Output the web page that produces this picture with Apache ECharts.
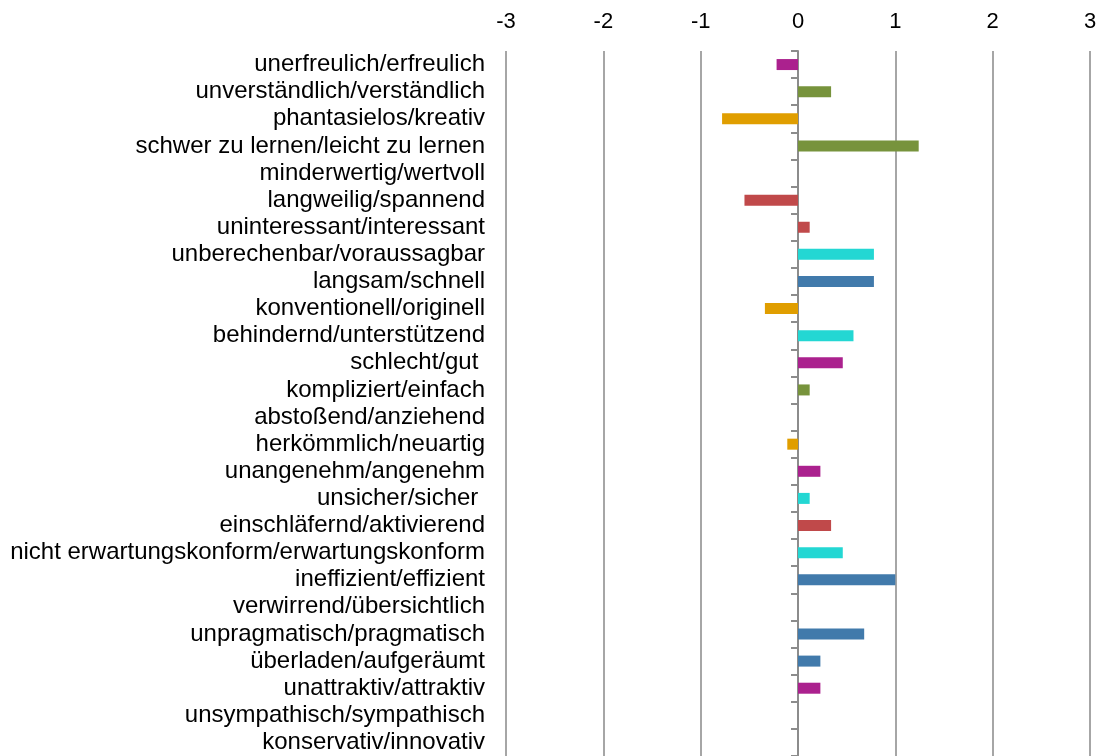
<!DOCTYPE html>
<html>
<head>
<meta charset="utf-8">
<script src="https://cdn.jsdelivr.net/npm/echarts@6/dist/echarts.min.js"></script>
<style>
  html, body { margin: 0; padding: 0; background: #fff; }
  #chart { width: 1104px; height: 756px; }
</style>
</head>
<body>
<div id="chart"></div>
<script>
// Semantic differential item pairs (negative pole / positive pole)
const categories = [
  'unerfreulich/erfreulich',
  'unverständlich/verständlich',
  'phantasielos/kreativ',
  'schwer zu lernen/leicht zu lernen',
  'minderwertig/wertvoll',
  'langweilig/spannend',
  'uninteressant/interessant',
  'unberechenbar/voraussagbar',
  'langsam/schnell',
  'konventionell/originell',
  'behindernd/unterstützend',
  'schlecht/gut ',
  'kompliziert/einfach',
  'abstoßend/anziehend',
  'herkömmlich/neuartig',
  'unangenehm/angenehm',
  'unsicher/sicher ',
  'einschläfernd/aktivierend',
  'nicht erwartungskonform/erwartungskonform',
  'ineffizient/effizient',
  'verwirrend/übersichtlich',
  'unpragmatisch/pragmatisch',
  'überladen/aufgeräumt',
  'unattraktiv/attraktiv',
  'unsympathisch/sympathisch',
  'konservativ/innovativ'
];

// Mean rating per item on the -3 .. +3 scale
const values = [
  -0.22, 0.34, -0.78, 1.24, 0, -0.55, 0.12, 0.78, 0.78, -0.34,
  0.57, 0.46, 0.12, 0, -0.11, 0.23, 0.12, 0.34, 0.46, 1.0,
  0, 0.68, 0.23, 0.23, 0, 0
];

// Scale tick labels
const scaleTicks = [-3, -2, -1, 0, 1, 2, 3];

// Scale group of each item (colour key)
const groups = [
  'attr', 'pers', 'orig', 'pers', 'attr', 'stim', 'stim', 'steu', 'eff', 'orig',
  'steu', 'attr', 'pers', 'attr', 'orig', 'attr', 'steu', 'stim', 'steu', 'eff',
  'pers', 'eff', 'eff', 'attr', 'attr', 'orig'
];

const groupColors = {
  attr: '#AB218E',
  pers: '#77933C',
  orig: '#E09E00',
  stim: '#C0494A',
  steu: '#23D7D3',
  eff:  '#417AAB'
};

const FONT = '"Liberation Sans", Arial, Helvetica, sans-serif';

const chart = echarts.init(document.getElementById('chart'), null, { renderer: 'canvas' });

chart.setOption({
  animation: false,
  backgroundColor: '#ffffff',
  grid: { left: 506, right: 14, top: 51, height: 706, containLabel: false },
  xAxis: {
    type: 'value',
    position: 'top',
    min: scaleTicks[0],
    max: scaleTicks[scaleTicks.length - 1],
    interval: 1,
    axisLine: { show: false },
    axisTick: { show: false },
    axisLabel: {
      margin: 18,
      color: '#000',
      fontFamily: FONT,
      fontSize: 22
    },
    splitLine: { show: true, lineStyle: { color: '#a6a6a6', width: 2 } }
  },
  yAxis: [
    {
      // item labels along the left edge
      type: 'category',
      data: categories,
      inverse: true,
      position: 'left',
      axisLine: { show: false, onZero: false },
      axisTick: { show: false },
      axisLabel: {
        interval: 0,
        margin: 21,
        color: '#000',
        fontFamily: FONT,
        fontSize: 24
      },
      splitLine: { show: false }
    },
    {
      // baseline at zero with boundary ticks
      type: 'category',
      data: categories,
      inverse: true,
      position: 'left',
      axisLine: { show: true, onZero: true, lineStyle: { color: '#8c8c8c', width: 2 } },
      axisTick: { show: true, interval: 0, length: 7, lineStyle: { color: '#8c8c8c', width: 2 } },
      axisLabel: { show: false },
      splitLine: { show: false }
    }
  ],
  series: [
    {
      type: 'bar',
      yAxisIndex: 0,
      barWidth: 11,
      data: values.map((v, i) => ({
        value: v,
        itemStyle: { color: groupColors[groups[i]] }
      }))
    }
  ]
});
</script>
</body>
</html>
